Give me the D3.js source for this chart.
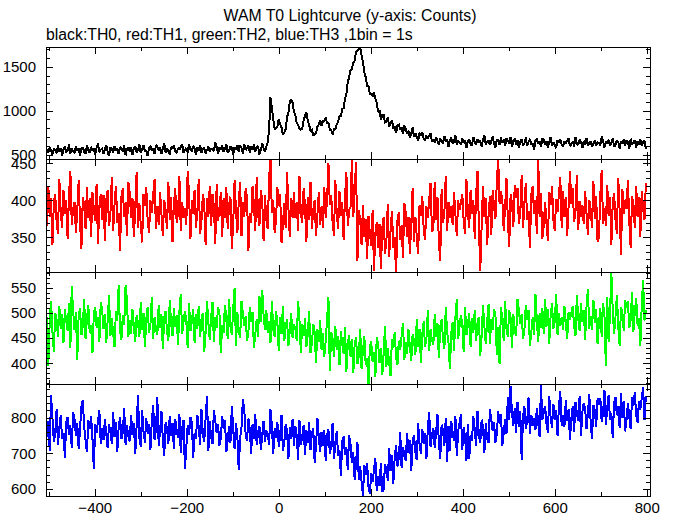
<!DOCTYPE html>
<html><head><meta charset="utf-8">
<script src="https://cdn.jsdelivr.net/npm/d3@7"></script>
<style>
body{margin:0;background:#fff}
svg{display:block}
text{font-family:"Liberation Sans",Arial,Helvetica,sans-serif}
</style>
</head><body>
<svg id="c" width="674" height="515"></svg>
<script>
// time bins (s) for the series: first bin and spacing
const tStart = -504, tStep = 3;

// TH0 (black)
const th0 = [
557,524,584,542,503,569,551,515,602,533,575,491,560,590,527,545,614,512,566,536,
523,598,541,574,487,565,583,532,508,610,550,520,589,544,571,499,580,625,526,556,
570,513,555,609,531,483,579,564,519,597,540,576,504,588,558,534,603,492,561,585,
539,584,500,575,593,527,548,617,518,566,602,533,551,482,581,596,545,572,509,608,
592,544,580,508,562,628,526,571,532,499,589,565,601,538,517,577,553,586,616,523,
546,576,522,624,555,537,600,570,501,585,543,612,525,561,579,513,552,594,534,567,
568,538,637,592,511,583,556,601,532,562,622,520,544,595,577,499,586,553,610,535,
603,579,510,621,552,576,606,522,594,558,615,537,582,597,501,549,627,573,531,588,
640,780,1150,1030,905,790,800,820,905,850,810,730,750,790,925,980,1100,1125,1090,990,
950,860,840,790,785,795,890,940,985,890,840,770,780,720,730,740,820,840,895,830,
880,880,925,860,860,785,780,730,790,790,850,870,940,940,1020,1030,1140,1190,1325,1380,
1460,1475,1545,1570,1670,1690,1700,1720,1630,1550,1440,1380,1280,1280,1190,1190,1165,1210,1135,1090,
985,1005,896,951,949,868,874,931,821,859,886,809,819,743,835,843,786,807,738,831,
791,739,771,695,745,807,701,742,699,662,748,720,752,685,660,716,688,717,743,646,
671,636,696,656,617,681,663,627,714,645,677,593,662,692,630,648,716,610,664,634,
613,688,631,664,577,655,673,622,598,700,640,610,679,634,661,589,670,715,616,646,
666,609,651,705,627,579,675,660,615,693,636,672,600,684,654,630,699,588,657,681,
617,662,578,653,671,605,626,695,596,644,680,611,629,560,659,674,623,650,587,686,
666,618,654,582,636,702,600,645,606,573,663,639,675,612,591,651,627,660,690,597,
618,648,594,696,627,609,672,642,573,657,615,684,597,633,651,585,624,666,606,639,
636,606,705,660,579,651,624,669,600,630,690,588,612,663,645,567,654,621,678,603,
663,639,570,681,612,636,666,582,654,618,675,597,642,657,561
];

// TH1 (red)
const th1 = [
365,420,378,403,339,396,409,372,354,429,385,363,414,381,400,348,407,440,367,389,
398,356,387,427,370,334,405,394,361,418,376,403,350,411,389,372,422,341,392,409,
374,407,345,400,414,365,381,431,359,394,420,370,383,332,405,416,378,398,352,425,
411,376,403,350,389,438,363,396,367,343,409,392,418,372,356,400,383,407,429,361,
392,367,411,381,352,400,387,361,425,374,405,343,394,416,370,383,433,359,398,376,
389,367,440,407,348,400,381,414,363,385,429,354,372,409,396,339,403,378,420,365,
409,392,341,422,372,389,411,350,403,376,418,361,394,405,334,370,427,387,356,398,
425,352,398,378,416,405,332,383,370,420,394,359,431,381,365,414,400,345,407,374,
361,429,458,383,400,356,372,418,392,409,343,367,396,363,438,389,350,403,376,411,
376,398,359,433,383,370,416,394,343,405,374,425,361,387,400,352,381,411,367,392,
363,418,376,401,450,394,407,370,352,427,383,361,412,379,398,346,405,438,365,387,
391,458,377,415,452,318,387,374,339,394,350,375,320,379,356,338,387,305,355,371,
335,368,307,362,377,328,345,395,324,359,386,336,350,299,373,384,347,367,322,396,
384,350,378,327,367,417,343,378,350,327,394,379,406,361,346,392,376,401,424,358,
361,425,374,405,343,318,416,370,383,433,359,398,376,392,367,411,381,352,400,387,
396,409,372,354,429,385,363,414,381,400,348,407,440,367,304,365,420,378,403,339,
379,406,353,414,392,375,425,458,395,412,401,359,390,430,373,337,408,397,364,421,
403,417,368,384,434,362,397,423,373,386,335,408,419,381,401,355,457,377,410,348,
365,398,369,345,411,394,420,374,358,402,385,409,431,363,413,378,405,352,391,440,
395,417,371,384,434,360,399,377,393,368,412,382,353,401,388,362,426,375,406,344,
349,408,441,368,390,366,421,379,404,340,397,410,373,355,430,386,326,415,382,401,
388,428,371,335,406,395,362,419,377,404,351,412,390,373,423
];

// TH2 (green)
const th2 = [
492,395,480,524,461,423,500,488,452,514,468,497,440,507,483,464,519,430,553,504,
466,502,407,495,509,456,473,528,449,488,516,461,476,420,500,512,471,492,442,521,
507,468,497,440,483,536,454,490,459,432,504,485,556,464,447,495,476,555,526,452,
485,459,507,473,442,495,480,452,521,466,500,432,488,512,461,476,531,449,492,468,
456,516,471,497,428,490,504,464,444,526,478,454,509,473,495,437,502,538,459,483,
504,485,430,519,464,483,507,440,497,468,514,452,488,500,423,461,524,480,447,492,
521,442,492,471,512,500,420,476,461,516,488,449,528,473,456,509,550,435,502,466,
450,524,500,474,493,445,462,512,483,502,430,457,488,452,534,481,546,495,466,505,
460,484,441,523,468,453,504,480,424,492,458,513,444,472,487,434,465,499,451,477,
470,445,523,486,420,477,454,489,433,456,503,420,439,478,463,400,468,442,486,426,
459,413,445,488,532,385,462,449,412,473,426,454,396,463,438,418,472,383,437,456,
413,448,380,439,452,398,414,468,388,426,453,397,411,354,433,444,402,423,372,451,
439,401,431,376,420,474,393,431,401,375,448,430,461,412,396,445,427,454,480,407,
443,418,467,434,404,458,444,417,487,433,468,401,458,483,433,449,505,424,468,446,
436,497,452,479,410,473,487,448,428,511,463,440,388,460,482,425,490,527,448,473,
496,477,422,511,456,475,499,432,489,460,506,444,480,492,415,453,516,472,439,484,
517,438,488,467,508,496,416,472,398,512,484,445,524,469,452,505,491,431,498,462,
454,528,504,478,497,449,466,516,487,506,434,461,492,456,538,485,442,499,470,509,
459,528,473,507,439,495,519,468,483,538,456,499,475,492,466,514,480,449,502,487,
500,514,474,454,536,488,464,519,483,505,447,512,548,469,493,466,526,481,507,438,
480,509,452,519,495,394,531,442,497,580,504,459,492,536,473,435,512,500,464,526,
509,523,470,487,542,463,502,530,475,490,434,514,566,485,506
];

// TH3 (blue)
const th3 = [
745,790,706,862,799,733,754,823,724,772,808,739,757,688,787,802,751,778,715,814,
796,748,784,712,766,832,848,775,736,703,793,769,805,742,655,781,757,790,820,727,
769,736,796,754,715,781,763,727,814,745,787,703,772,802,739,757,826,724,778,748,
733,808,751,784,697,775,862,742,718,820,760,730,799,754,781,709,790,835,736,766,
858,721,763,817,739,691,787,772,727,805,748,784,712,796,766,742,811,700,769,793,
656,715,778,751,802,787,688,757,739,808,772,724,823,754,733,799,860,706,790,745,
727,820,790,757,781,721,742,805,769,793,703,736,775,730,832,766,712,784,748,652,
743,773,852,821,752,734,797,767,698,782,740,809,722,758,776,710,749,791,731,764,
754,724,823,778,697,769,742,787,718,748,808,706,730,781,763,685,772,739,796,721,
775,751,682,793,724,748,778,694,766,730,787,709,754,769,673,721,799,745,703,760,
721,764,678,751,767,699,718,785,683,729,763,692,708,637,734,747,694,718,653,750,
726,672,702,624,672,732,624,663,619,581,667,639,672,607,585,644,620,654,685,593,
637,608,672,592,599,669,655,623,714,649,695,615,688,722,663,685,758,660,718,692,
679,756,701,736,651,731,751,702,680,784,726,698,769,726,755,685,768,815,718,751,
771,714,756,810,732,684,780,765,720,798,676,777,705,789,759,735,804,693,762,786,
809,710,773,746,679,782,683,752,734,803,767,719,818,749,728,794,776,701,785,740,
729,823,794,763,788,730,752,817,783,809,721,756,797,754,857,792,888,812,777,826,
757,844,775,817,682,802,832,769,787,856,754,808,778,799,766,826,784,745,890,793,
815,833,782,758,860,800,770,839,794,821,749,830,875,776,806,773,848,791,824,737,
796,832,760,844,814,790,859,748,817,841,826,769,811,865,787,739,835,820,775,853,
836,854,788,809,878,779,827,863,794,812,743,842,857,806,833,770,869,800,845,761,
795,840,801,768,858,834,870,807,786,846,822,855,885,792,861
];

// tick labels
const xMajor = [-400, -200, 0, 200, 400, 600, 800];
const xMinor = [-500, -300, -100, 100, 300, 500, 700];
const yMajor0 = [500, 1000, 1500];
const yMajor1 = [350, 400, 450];
const yMajor2 = [400, 450, 500, 550];
const yMajor3 = [600, 700, 800];

const titleText = "WAM T0 Lightcurve (y-axis: Counts)";
const subText = "black:TH0, red:TH1, green:TH2, blue:TH3 ,1bin = 1s";

const panels = [
  {values: th0, color: "#000000", domain: [450, 1725], major: yMajor0, minorStep: 100},
  {values: th1, color: "#ff0000", domain: [303, 456],  major: yMajor1, minorStep: 10},
  {values: th2, color: "#00ff00", domain: [359, 581],  major: yMajor2, minorStep: 10},
  {values: th3, color: "#0000ff", domain: [580, 894],  major: yMajor3, minorStep: 20}
];

const svg = d3.select("#c");
const L = 46, R = 650;
const tops = [47, 159, 272, 384, 496];
const x = d3.scaleLinear().domain([-506, 807]).range([L, R]);
const fmt = d => d < 0 ? "\u2212" + (-d) : String(d);

function styleAxis(g) {
  g.select(".domain").remove();
  g.attr("font-size", 15).attr("font-family", '"Liberation Sans",Arial,Helvetica,sans-serif');
  g.selectAll("line").attr("stroke", "#000").attr("shape-rendering", "crispEdges");
  g.selectAll("text").attr("fill", "#000");
}

panels.forEach((p, i) => {
  const y0 = tops[i], y1 = tops[i + 1];
  const y = d3.scaleLinear().domain(p.domain).range([y1, y0]);
  svg.append("clipPath").attr("id", "clip" + i)
    .append("rect").attr("x", L).attr("y", y0).attr("width", R - L).attr("height", y1 - y0);

  const line = d3.line().x((d, k) => x(tStart + k * tStep)).y(d => y(d));
  svg.append("path").datum(p.values)
    .attr("clip-path", `url(#clip${i})`)
    .attr("fill", "none").attr("stroke", p.color).attr("stroke-width", 2)
    .attr("stroke-linejoin", "miter").attr("stroke-miterlimit", 2)
    .attr("shape-rendering", "crispEdges")
    .attr("d", line);

  const start = Math.ceil(p.domain[0] / p.minorStep) * p.minorStep;
  const minor = d3.range(start, p.domain[1], p.minorStep).filter(v => !p.major.includes(v));

  svg.append("g").attr("transform", `translate(${L},0)`)
    .call(d3.axisLeft(y).tickValues(p.major).tickSize(-7).tickPadding(10).tickFormat(fmt)).call(styleAxis);
  svg.append("g").attr("transform", `translate(${L},0)`)
    .call(d3.axisLeft(y).tickValues(minor).tickSize(-4).tickFormat("")).call(styleAxis);
  svg.append("g").attr("transform", `translate(${R},0)`)
    .call(d3.axisRight(y).tickValues(p.major).tickSize(-7).tickFormat("")).call(styleAxis);
  svg.append("g").attr("transform", `translate(${R},0)`)
    .call(d3.axisRight(y).tickValues(minor).tickSize(-4).tickFormat("")).call(styleAxis);

  svg.append("g").attr("transform", `translate(0,${y0})`)
    .call(d3.axisTop(x).tickValues(xMajor).tickSize(-7).tickFormat("")).call(styleAxis);
  svg.append("g").attr("transform", `translate(0,${y0})`)
    .call(d3.axisTop(x).tickValues(xMinor).tickSize(-4).tickFormat("")).call(styleAxis);
  const last = i === panels.length - 1;
  svg.append("g").attr("transform", `translate(0,${y1})`)
    .call(d3.axisBottom(x).tickValues(xMajor).tickSize(-7).tickPadding(6).tickFormat(last ? fmt : "")).call(styleAxis);
  svg.append("g").attr("transform", `translate(0,${y1})`)
    .call(d3.axisBottom(x).tickValues(xMinor).tickSize(-4).tickFormat("")).call(styleAxis);

  svg.append("rect").attr("x", L).attr("y", y0).attr("width", R - L).attr("height", y1 - y0)
    .attr("fill", "none").attr("stroke", "#000").attr("stroke-width", 1).attr("shape-rendering", "crispEdges");
});

svg.append("text").attr("x", 350).attr("y", 21).attr("text-anchor", "middle")
  .attr("font-size", 15.8).attr("fill", "#000").text(titleText);
svg.append("text").attr("x", 46).attr("y", 40).attr("text-anchor", "start")
  .attr("font-size", 15.8).attr("fill", "#000").text(subText);
</script>
</body></html>
